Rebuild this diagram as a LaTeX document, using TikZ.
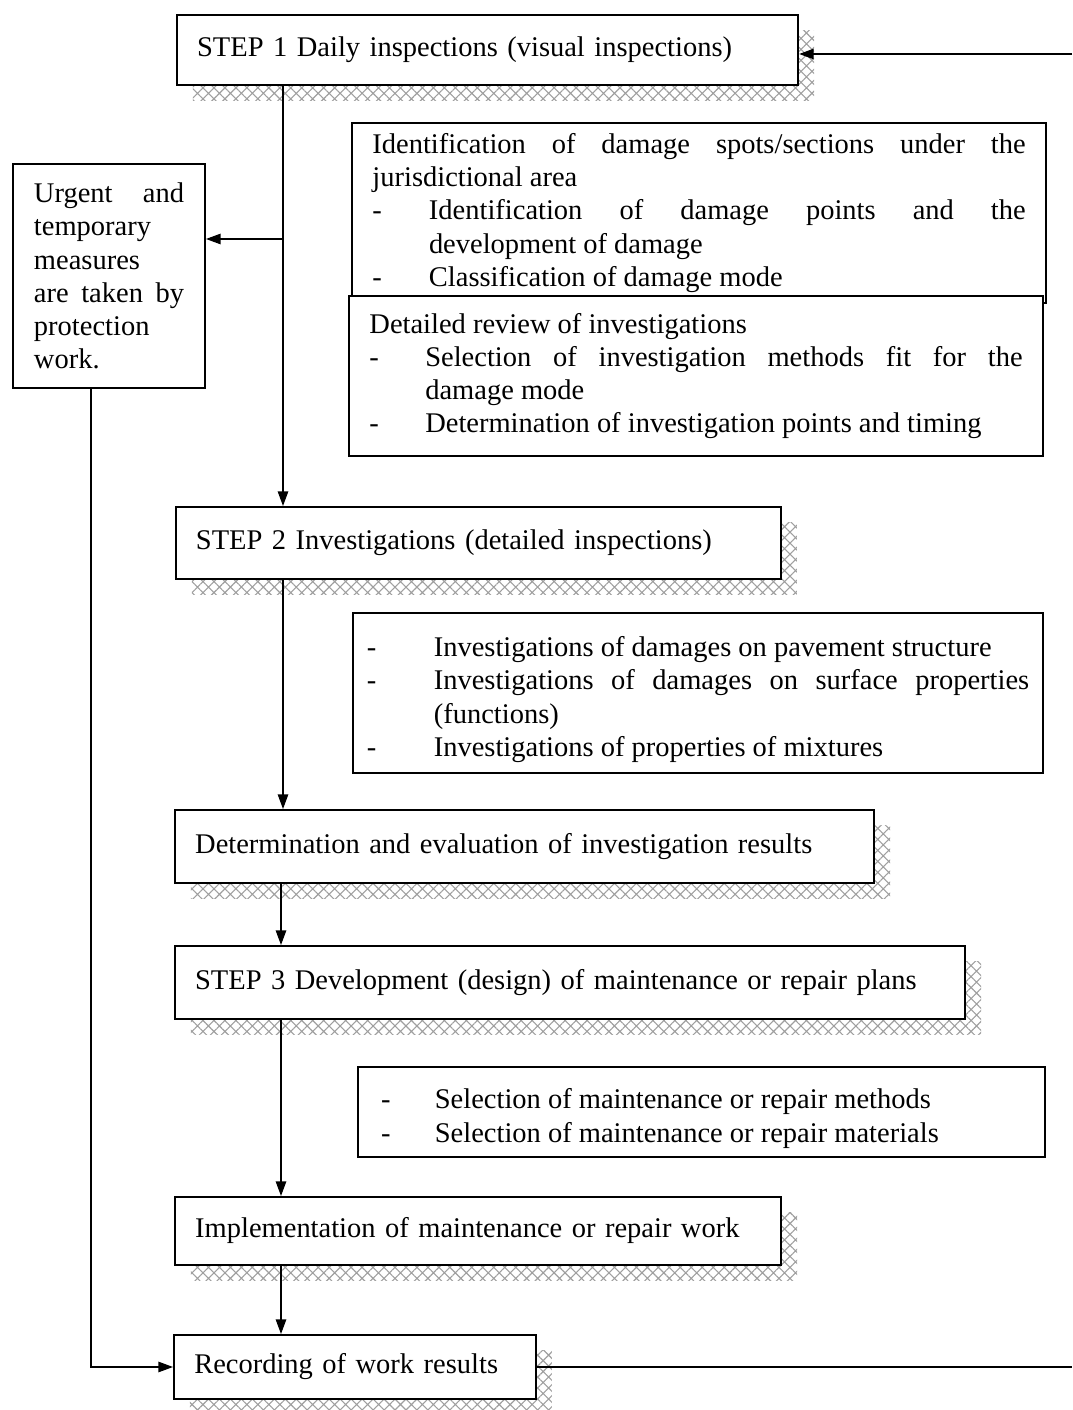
\documentclass[tikz,border=0pt]{standalone}
\usepackage{fontspec}
\setmainfont{Liberation Serif}
\usetikzlibrary{positioning,arrows.meta,shadows,patterns.meta,calc}
\hyphenpenalty=10000
\exhyphenpenalty=10000
\setlength{\parindent}{0pt}
\newcommand{\dashitem}[2][0.82cm]{\par\hangindent=#1\hangafter=1\noindent\makebox[#1][l]{-}#2}

\begin{document}
\begin{tikzpicture}[x=0.0145cm, y=-0.0145cm,
    box/.style={draw, line width=0.8pt, fill=white, anchor=north west, inner xsep=0.29cm, inner ysep=0pt, align=left, font=\fontsize{11.75}{13.7}\selectfont},
    listbox/.style={box, align=justify},
    shadowed/.style={general shadow={shadow xshift=0.23cm, shadow yshift=-0.23cm, pattern={Hatch[angle=45,distance=3.2pt,line width=0.45pt]}, pattern color=gray!75}},
    arr/.style={line width=0.5pt, -{Triangle[length=6pt,width=4.3pt]}}]
        \useasboundingbox (0,0) rectangle (1072,1410);

        % Steps
        \node[box, shadowed, minimum width=9.005cm, minimum height=1.015cm, text width=8.42cm] (step1) at (176,14) {STEP 1 Daily inspections (visual inspections)};
        \node[box, minimum width=2.784cm, minimum height=3.248cm, text width=2.175cm] (urgent) at (12,163) {Urgent \hfill and\\ temporary\\ measures\\ are \hfill taken \hfill by\\ protection\\ work.};

        % Notes of step 1
        \node[listbox, minimum width=10.063cm, minimum height=2.61cm, text width=9.47cm] (ident) at (351,122) {Identification of damage spots/sections under the\linebreak jurisdictional area
            \dashitem{Identification of damage points and the\linebreak development of damage}
            \dashitem{Classification of damage mode}};
        \node[listbox, minimum width=10.063cm, minimum height=2.32cm, text width=9.47cm] (review) at (348,295) {Detailed review of investigations
            \dashitem[0.81cm]{Selection of investigation methods fit for the\linebreak damage mode}
            \dashitem[0.81cm]{Determination of investigation points and timing}};

        \node[box, shadowed, minimum width=8.77cm, minimum height=1.044cm, text width=8.19cm] (step2) at (175,506) {STEP 2 Investigations (detailed inspections)};
        \node[listbox, inner xsep=0.16cm, minimum width=10.005cm, minimum height=2.32cm, text width=9.6cm] (invest) at (352,612) {\dashitem[0.97cm]{Investigations of damages on pavement structure}
            \dashitem[0.97cm]{Investigations of damages on surface properties\linebreak (functions)}
            \dashitem[0.97cm]{Investigations of properties of mixtures}};

        \node[box, shadowed, minimum width=10.136cm, minimum height=1.059cm, text width=9.55cm] (determ) at (174,809) {Determination and evaluation of investigation results};
        \node[box, shadowed, minimum width=11.455cm, minimum height=1.059cm, text width=10.87cm] (step3) at (174,945) {STEP 3 Development (design) of maintenance or repair plans};
        \node[listbox, inner xsep=0.33cm, minimum width=9.96cm, minimum height=1.305cm, text width=9.29cm] (select) at (357,1066) {\dashitem[0.78cm]{Selection of maintenance or repair methods}
            \dashitem[0.78cm]{Selection of maintenance or repair materials}};

        \node[box, shadowed, minimum width=8.787cm, minimum height=0.986cm, text width=8.2cm] (implem) at (174,1196) {Implementation of maintenance or repair work};
        \node[box, shadowed, minimum width=5.249cm, minimum height=0.928cm, text width=4.66cm] (record) at (173,1334) {Recording of work results};

        % Connectors
        \coordinate (spine) at (283,0);
        \coordinate (spineb) at (281,0);
        \coordinate (leftl) at (91,0);
        \coordinate (fork) at (283,239);
        \coordinate (topin) at (1072,54);
        \coordinate (botout) at (1072,1368);

        \draw[arr] (step1.south -| spine) -- (step2.north -| spine);
        \draw[arr] (fork) -- (urgent.east |- fork);
        \draw[arr] (step2.south -| spine) -- (determ.north -| spine);
        \draw[arr] (determ.south -| spineb) -- (step3.north -| spineb);
        \draw[arr] (step3.south -| spineb) -- (implem.north -| spineb);
        \draw[arr] (implem.south -| spineb) -- (record.north -| spineb);
        \draw[arr] (urgent.south -| leftl) |- (record.west);
        \draw[arr] (topin) -- (step1.east |- topin);
        \draw[line width=0.5pt] (record.east) -- (record.east -| botout);

\end{tikzpicture}
\end{document}
